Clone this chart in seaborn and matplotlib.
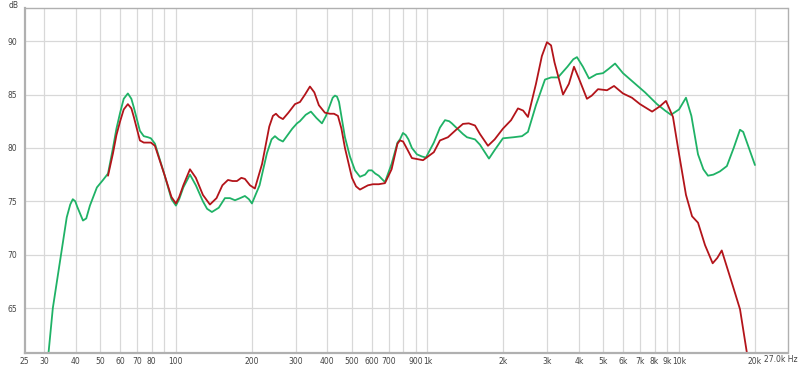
import numpy as np
import pandas as pd
import matplotlib
matplotlib.use("Agg")
import matplotlib.pyplot as plt
import seaborn as sns

# Green trace (frequency Hz, level dB)
green_freq = [31.0, 32.4, 34.9, 36.8, 38.0, 38.9, 39.8, 40.5, 42.7, 44.0, 45.5, 48.5, 51.3, 53.7,
              56.2, 58.0, 60.0, 62.0, 64.4, 66.5, 68.0, 71.9, 74.5, 77.4, 79.5, 82.5, 90.0, 96.0,
              100, 103, 107, 113.7, 120, 128, 133, 139, 148, 156.6, 164, 171.7, 180, 188, 195,
              200.5, 215, 230, 240, 247.5, 256, 266.3, 290, 302.9, 311, 328, 344, 362, 380.6,
              395, 409.5, 420, 428.8, 437, 445, 469.8, 491.8, 515, 539, 565, 583, 601, 620, 640,
              677.6, 720, 760, 777.4, 799, 820, 840, 867, 908, 950, 986, 1060, 1121, 1174, 1220,
              1250, 1384, 1436, 1545, 1617, 1700, 1756, 1850, 1995, 2200, 2376, 2509, 2700,
              2932, 3100, 3303, 3600, 3800, 3929, 4150, 4387, 4700, 4988, 5250, 5570, 5987,
              6998, 7328, 8176, 8800, 9293, 10000, 10660, 11200, 11900, 12500, 13040, 13700,
              14540, 15500, 16500, 17480, 18000, 18640, 20040]
green_db = [60.3, 65.0, 70.0, 73.5, 74.7, 75.2, 75.0, 74.5, 73.2, 73.4, 74.6, 76.3, 77.0, 77.6,
            80.0, 81.8, 83.3, 84.6, 85.1, 84.6, 83.8, 81.6, 81.1, 81.0, 80.9, 80.4, 77.5, 75.2,
            74.6, 75.2, 76.3, 77.5, 76.5, 75.0, 74.3, 74.0, 74.4, 75.3, 75.3, 75.1, 75.3, 75.5,
            75.2, 74.8, 76.5, 79.5, 80.8, 81.1, 80.8, 80.6, 81.8, 82.3, 82.5, 83.1, 83.4, 82.8,
            82.3, 83.0, 84.0, 84.7, 84.9, 84.8, 84.3, 81.0, 79.2, 77.9, 77.3, 77.5, 77.9, 77.9,
            77.6, 77.4, 76.8, 78.5, 80.5, 80.8, 81.4, 81.2, 80.8, 80.0, 79.4, 79.2, 79.1, 80.5,
            81.9, 82.6, 82.5, 82.3, 81.3, 81.0, 80.8, 80.3, 79.5, 79.0, 79.8, 80.9, 81.0, 81.1,
            81.5, 84.0, 86.4, 86.6, 86.6, 87.6, 88.3, 88.5, 87.6, 86.5, 86.9, 87.0, 87.4, 87.9,
            87.0, 85.6, 85.2, 84.1, 83.5, 83.1, 83.6, 84.7, 83.0, 79.4, 78.0, 77.4, 77.5, 77.8,
            78.3, 80.0, 81.7, 81.5, 80.5, 78.4]

# Red trace (frequency Hz, level dB)
red_freq = [53.7, 56.2, 58.0, 60.0, 62.0, 64.4, 66.5, 68.0, 71.9, 74.5, 77.4, 79.5, 82.5, 90.0,
            96.0, 100, 103, 107, 113.7, 120, 128, 136.5, 145, 153, 161, 168, 174.8, 182, 188,
            197, 206, 220, 235, 243, 249.8, 257, 266.3, 280, 297.3, 311.3, 326, 341, 355, 370,
            391, 409.5, 425, 440.6, 455, 469.8, 501, 520, 539, 580, 607, 640, 677.6, 720, 760,
            777.4, 800, 830, 867, 960, 1060, 1121, 1206, 1300, 1384, 1460, 1545, 1617, 1740,
            1850, 1995, 2150, 2290, 2400, 2509, 2700, 2850, 2986, 3100, 3200, 3459, 3650,
            3824, 4000, 4305, 4500, 4764, 5173, 5517, 5987, 6500, 6998, 7818, 8400, 8875, 9463,
            9910, 10660, 11270, 11900, 12690, 13610, 14200, 14790, 16360, 17480, 19000]
red_db = [77.4, 79.5, 81.2, 82.5, 83.6, 84.1, 83.7, 82.9, 80.7, 80.5, 80.5, 80.5, 80.2, 77.5,
          75.4, 74.8, 75.4, 76.5, 78.0, 77.2, 75.6, 74.7, 75.3, 76.5, 77.0, 76.9, 76.9, 77.2,
          77.1, 76.5, 76.2, 78.5, 82.0, 83.0, 83.2, 82.9, 82.7, 83.3, 84.1, 84.3, 85.0, 85.75,
          85.2, 84.0, 83.3, 83.2, 83.2, 83.0, 81.8, 80.0, 77.2, 76.4, 76.1, 76.5, 76.6, 76.6,
          76.7, 78.0, 80.4, 80.7, 80.6, 79.9, 79.05, 78.85, 79.6, 80.7, 81.0, 81.7, 82.25,
          82.3, 82.1, 81.3, 80.2, 80.8, 81.8, 82.6, 83.7, 83.5, 82.9, 86.0, 88.6, 89.9, 89.6,
          88.0, 85.0, 86.0, 87.6, 86.5, 84.6, 84.9, 85.5, 85.4, 85.8, 85.1, 84.7, 84.1, 83.4,
          83.9, 84.4, 82.9, 80.0, 75.6, 73.6, 73.0, 70.9, 69.2, 69.7, 70.4, 67.1, 64.9, 59.5]

x_ticks = [25, 30, 40, 50, 60, 70, 80, 100, 200, 300, 400, 500, 600, 700, 900, 1000,
           2000, 3000, 4000, 5000, 6000, 7000, 8000, 9000, 10000, 20000]
x_labels = ["25", "30", "40", "50", "60", "70", "80", "100", "200", "300", "400", "500",
            "600", "700", "900", "1k", "2k", "3k", "4k", "5k", "6k", "7k", "8k", "9k", "10k",
            "20k"]
end_label = "27.0k Hz"
x_grid = [30, 40, 50, 60, 70, 80, 90, 100, 200, 300, 400, 500, 600, 700, 800, 900, 1000,
          2000, 3000, 4000, 5000, 6000, 7000, 8000, 9000, 10000, 20000]
y_ticks = [65, 70, 75, 80, 85, 90]

sns.set_style("white")
plt.rcParams['font.family'] = ['DejaVu Sans']

fig = plt.figure(figsize=(8, 3.65), dpi=100)
ax = fig.add_axes([24.5 / 800, 12 / 365, (787.5 - 24.5) / 800, (353 - 8) / 365])

dfg = pd.DataFrame({"f": green_freq, "db": green_db})
dfr = pd.DataFrame({"f": red_freq, "db": red_db})
sns.lineplot(data=dfg, x="f", y="db", ax=ax, color="#1fb266", lw=1.3, sort=False)
sns.lineplot(data=dfr, x="f", y="db", ax=ax, color="#b3141a", lw=1.3, sort=False)

ax.set_xscale("log")
ax.set_xlim(25, 27000)
ax.set_ylim(60.8, 93.1)

for g in x_grid:
    ax.axvline(g, color="#d8d8d8", lw=0.9, zorder=0)
for yv in y_ticks:
    ax.axhline(yv, color="#d8d8d8", lw=0.9, zorder=0)

ax.xaxis.set_minor_locator(matplotlib.ticker.NullLocator())
ax.set_xticks(x_ticks)
ax.set_xticklabels(x_labels)
ax.set_yticks(y_ticks)
ax.set_yticklabels([str(v) for v in y_ticks])
ax.tick_params(axis="both", length=0, labelsize=5.5, colors="#444444", pad=3)
ax.tick_params(axis="y", pad=5)
ax.set_xlabel("")
ax.set_ylabel("")
for s in ax.spines.values():
    s.set_color("#b0b0b0")
    s.set_linewidth(1.0)
ax.spines["left"].set_linewidth(1.6)
ax.spines["bottom"].set_linewidth(1.6)

fig.text(798 / 800, 1 - 359 / 365, end_label, fontsize=5.5, color="#444444",
         ha="right", va="center")
fig.text(14 / 800, 1 - 6 / 365, "dB", fontsize=5.5, color="#444444", ha="center", va="center")

fig.savefig("out.png", dpi=100)
